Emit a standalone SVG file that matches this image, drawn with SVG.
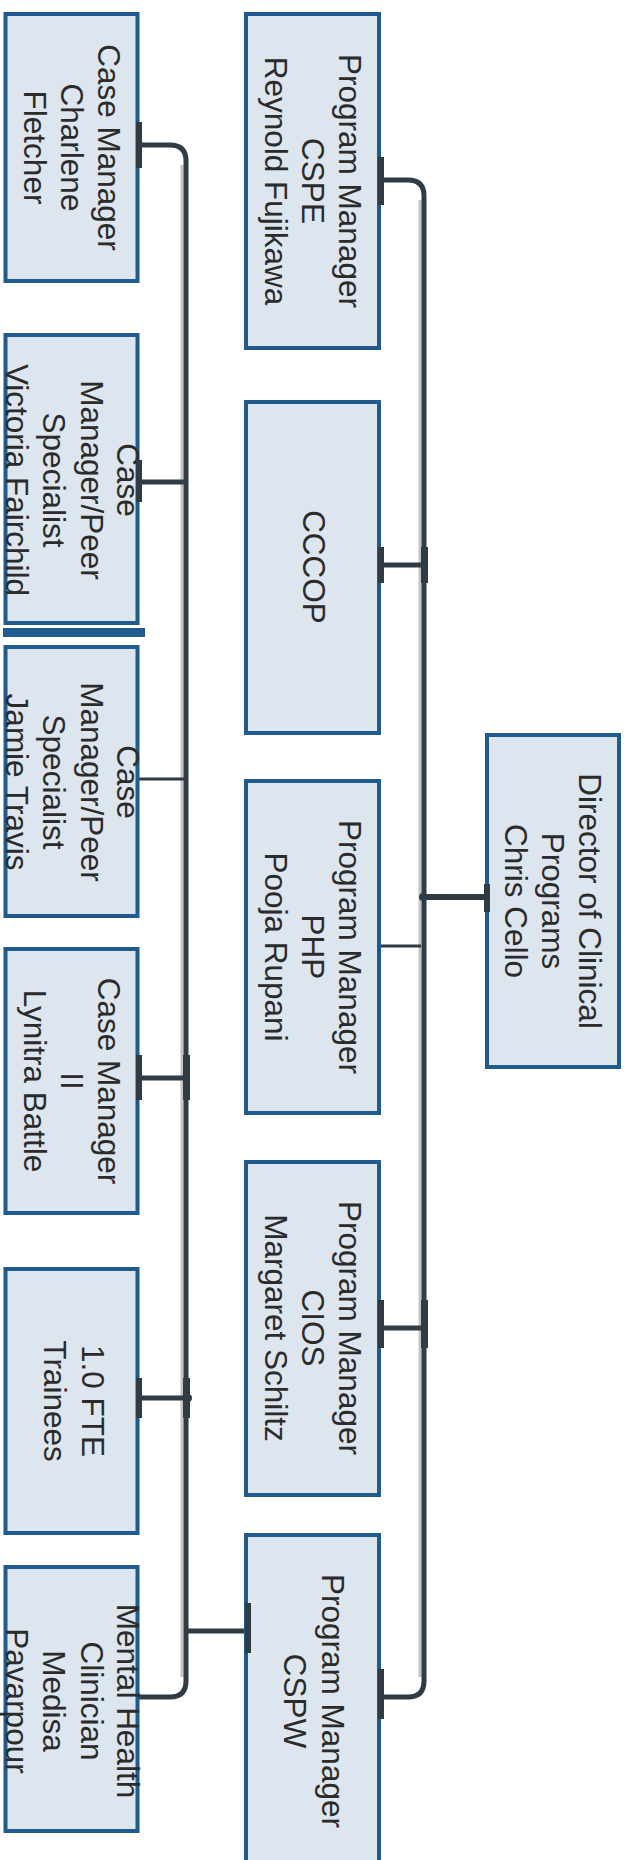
<svg xmlns="http://www.w3.org/2000/svg" width="627" height="1860" viewBox="0 0 627 1860">
<style>
.box{fill:#dde6ef;stroke:#215a8e;stroke-width:4}
.t{font-family:"Liberation Sans",Arial,sans-serif;font-size:31.5px;fill:#2b2b2b;text-anchor:middle}
.c{fill:none;stroke:#2f3b45;stroke-width:5}
.thin{fill:none;stroke:#2f3b45;stroke-width:3}
.sh{fill:none;stroke:#c4c4c4;stroke-width:3}
.tick{fill:#2f3b45}
</style>
<rect width="627" height="1860" fill="#ffffff"/>
<g id="connectors">
<path class="sh" d="M420,200 V1677"/>
<path class="sh" d="M182,165 V1677"/>
<path class="c" d="M381,180 H408 Q424,180 424,196 V1681 Q424,1697 408,1697 H381"/>
<path class="c" d="M381,565 H424"/>
<path class="thin" d="M381,946 H421"/>
<path class="c" d="M381,1328 H424"/>
<path class="c" style="stroke-width:6" d="M424,897 H486"/>
<circle class="tick" cx="423" cy="897" r="4"/>
<path class="c" d="M139,145 H170 Q186,145 186,161 V1681 Q186,1697 170,1697 H139"/>
<path class="c" d="M139,482 H186"/>
<path class="thin" d="M139,779 H186"/>
<path class="c" d="M139,1078 H186"/>
<path class="c" d="M139,1398 H186"/>
<path class="c" d="M244,1631 H186"/>
<circle class="tick" cx="188" cy="1398" r="4"/>
</g>
<g id="director">
<rect class="box" x="487" y="735" width="132" height="332"/>
<g transform="translate(553,901) rotate(90)"><text class="t" y="-26">Director of Clinical</text><text class="t" y="11">Programs</text><text class="t" y="48">Chris Cello</text></g>
</g>
<g id="cspe">
<rect class="box" x="246" y="14" width="133" height="334"/>
<g transform="translate(312.5,181) rotate(90)"><text class="t" y="-26">Program Manager</text><text class="t" y="11">CSPE</text><text class="t" y="48">Reynold Fujikawa</text></g>
</g>
<g id="cccop">
<rect class="box" x="246" y="402" width="133" height="331"/>
<g transform="translate(312.5,567) rotate(90)"><text class="t" y="10">CCCOP</text></g>
</g>
<g id="php">
<rect class="box" x="246" y="781" width="133" height="332"/>
<g transform="translate(312.5,947) rotate(90)"><text class="t" y="-26">Program Manager</text><text class="t" y="11">PHP</text><text class="t" y="48">Pooja Rupani</text></g>
</g>
<g id="cios">
<rect class="box" x="246" y="1162" width="133" height="333"/>
<g transform="translate(312.5,1328) rotate(90)"><text class="t" y="-26">Program Manager</text><text class="t" y="11">CIOS</text><text class="t" y="48">Margaret Schiltz</text></g>
</g>
<g id="cspw">
<rect class="box" x="246" y="1535" width="133" height="332"/>
<g transform="translate(312.5,1701) rotate(90)"><text class="t" y="-9">Program Manager</text><text class="t" y="29">CSPW</text></g>
</g>
<g id="charlene">
<rect class="box" x="5.5" y="14" width="132" height="267"/>
<g transform="translate(71.5,147.5) rotate(90)"><text class="t" y="-26">Case Manager</text><text class="t" y="11">Charlene</text><text class="t" y="48">Fletcher</text></g>
</g>
<g id="victoria">
<rect class="box" x="5.5" y="335" width="132" height="288"/>
<rect x="3" y="628" width="142" height="9" fill="#215a8e"/>
<g transform="translate(71.5,480) rotate(90)"><text class="t" y="-45">Case</text><text class="t" y="-9">Manager/Peer</text><text class="t" y="29">Specialist</text><text class="t" y="66">Victoria Fairchild</text></g>
</g>
<g id="jamie">
<rect class="box" x="5.5" y="647" width="132" height="269"/>
<g transform="translate(71.5,782) rotate(90)"><text class="t" y="-45">Case</text><text class="t" y="-9">Manager/Peer</text><text class="t" y="29">Specialist</text><text class="t" y="66">Jamie Travis</text></g>
</g>
<g id="lynitra">
<rect class="box" x="5.5" y="949" width="132" height="264"/>
<g transform="translate(71.5,1081) rotate(90)"><text class="t" y="-26">Case Manager</text><text class="t" y="11">II</text><text class="t" y="48">Lynitra Battle</text></g>
</g>
<g id="trainees">
<rect class="box" x="5.5" y="1269" width="132" height="264"/>
<g transform="translate(71.5,1401) rotate(90)"><text class="t" y="-10">1.0 FTE</text><text class="t" y="28">Trainees</text></g>
</g>
<g id="mental-health">
<rect class="box" x="5.5" y="1567" width="132" height="264"/>
<g transform="translate(71.5,1701) rotate(90)"><text class="t" y="-45">Mental Health</text><text class="t" y="-9">Clinician</text><text class="t" y="29">Medisa</text><text class="t" y="66">Pavarpour</text></g>
</g>
<g id="ticks">
<rect class="tick" x="136" y="122" width="6" height="46"/>
<rect class="tick" x="378" y="157" width="6" height="48"/>
<rect class="tick" x="378" y="547" width="6" height="36"/>
<rect class="tick" x="421" y="547" width="7" height="36"/>
<rect class="tick" x="136" y="460" width="6" height="42"/>
<rect class="tick" x="136" y="1055" width="6" height="45"/>
<rect class="tick" x="183" y="1055" width="7" height="45"/>
<rect class="tick" x="136" y="1378" width="6" height="40"/>
<rect class="tick" x="183" y="1378" width="7" height="40"/>
<rect class="tick" x="378" y="1300" width="6" height="48"/>
<rect class="tick" x="421" y="1300" width="7" height="48"/>
<rect class="tick" x="378" y="1669" width="6" height="50"/>
<rect class="tick" x="245" y="1603" width="6" height="50"/>
<rect class="tick" x="484" y="884" width="6" height="28"/>
</g>
</svg>
